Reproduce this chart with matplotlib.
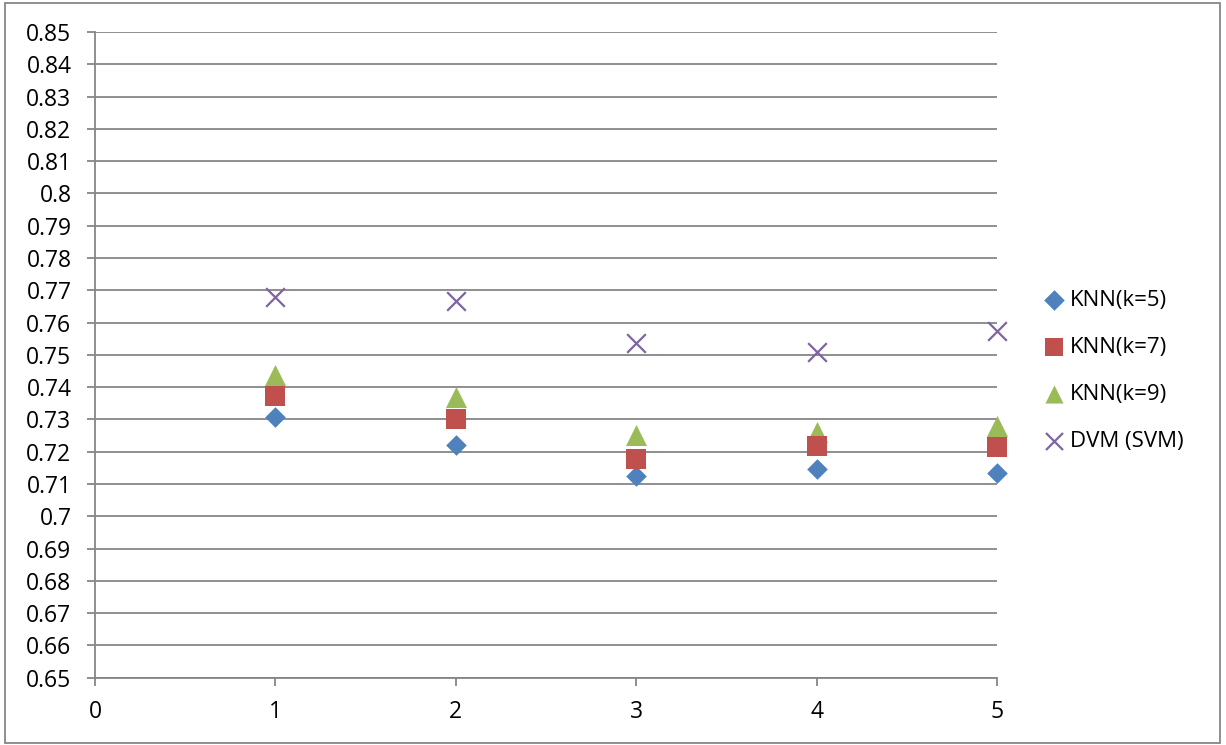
import matplotlib
matplotlib.use("Agg")
import matplotlib.pyplot as plt
from matplotlib.patches import Rectangle

x_vals = [1, 2, 3, 4, 5]
knn5 = [0.7306, 0.7220, 0.7125, 0.7146, 0.7135]
knn7 = [0.7372, 0.7302, 0.7176, 0.7218, 0.7215]
knn9 = [0.7437, 0.7369, 0.7251, 0.7262, 0.7280]
dvm = [0.7679, 0.7667, 0.7536, 0.7508, 0.7575]
labels = ["KNN(k=5)", "KNN(k=7)", "KNN(k=9)", "DVM (SVM)"]
yticks = [round(0.65 + 0.01 * i, 2) for i in range(21)]
ytick_labels = ["0.65", "0.66", "0.67", "0.68", "0.69", "0.7", "0.71", "0.72", "0.73",
                "0.74", "0.75", "0.76", "0.77", "0.78", "0.79", "0.8", "0.81", "0.82",
                "0.83", "0.84", "0.85"]
xticks = [0, 1, 2, 3, 4, 5]

plt.rcParams['font.family'] = ['Open Sans', 'DejaVu Sans']

fig = plt.figure(figsize=(12.26, 7.45), dpi=100)
ax = fig.add_axes([95/1226, 1-677.7/745, (997-95)/1226, (677.7-32)/745])

grid_c = "#868686"
ax.scatter(x_vals, knn5, marker="D", s=110, color="#4F81BD", label=labels[0], zorder=3, linewidths=0)
ax.scatter(x_vals, knn7, marker="s", s=210, color="#C0504D", label=labels[1], zorder=3, linewidths=0)
ax.scatter(x_vals, knn9, marker="^", s=230, color="#9BBB59", label=labels[2], zorder=2, linewidths=0)
ax.scatter(x_vals, dvm, marker="x", s=180, color="#8064A2", label=labels[3], zorder=3, linewidths=1.6)

ax.set_xlim(0, 5)
ax.set_ylim(0.65, 0.85)
ax.set_yticks(yticks)
ax.set_yticklabels(ytick_labels)
ax.set_xticks(xticks)
ax.yaxis.grid(True, color=grid_c, linewidth=1.3)
ax.set_axisbelow(True)
for s in ["top", "right"]:
    ax.spines[s].set_visible(False)
for s in ["left", "bottom"]:
    ax.spines[s].set_color(grid_c)
    ax.spines[s].set_linewidth(1.3)
ax.tick_params(axis="both", color=grid_c, width=1.3, length=6, labelsize=16.5, labelcolor="black")
ax.tick_params(axis="x", pad=10)
ax.tick_params(axis="y", pad=11)
for c in ax.collections:
    c.set_clip_on(False)

leg = fig.legend(loc="upper left", bbox_to_anchor=(1030/1226, 1-281/745), frameon=False,
                 fontsize=16, handletextpad=0.0, labelspacing=1.17, handlelength=1.4,
                 borderaxespad=0)
for h, sz in zip(leg.legend_handles, [110, 150, 170, 150]):
    h.set_sizes([sz])

fig.patches.append(Rectangle((5/1226, 1-743/745), (1220-5)/1226, (743-3)/745,
                             transform=fig.transFigure, fill=False, edgecolor="#868686", linewidth=1.3))

fig.savefig("out.png", dpi=100)
